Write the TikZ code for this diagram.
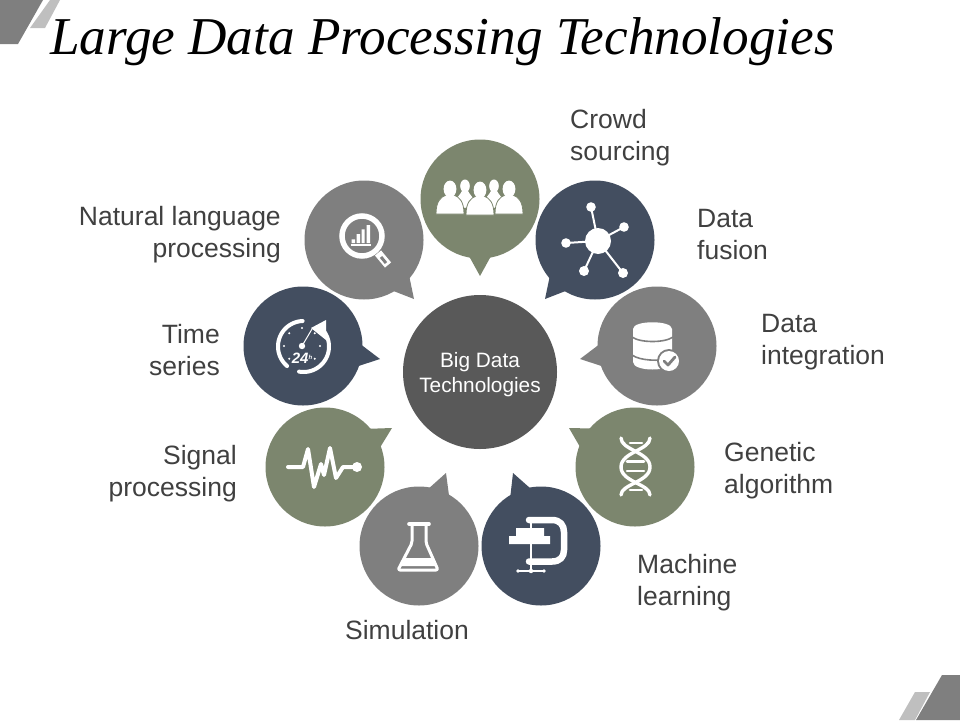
\documentclass[tikz,border=0pt]{standalone}
\usepackage{fontspec}
\setmainfont{Liberation Sans}
\newfontfamily\titlefont{Liberation Serif}
\usetikzlibrary{calc}
\definecolor{cgreen}{HTML}{7C866E}
\definecolor{cnavy}{HTML}{434E60}
\definecolor{cgray}{HTML}{7F7F7F}
\definecolor{ccentre}{HTML}{595959}
\definecolor{ctext}{HTML}{404040}
\tikzset{
  disc/.style={circle,inner sep=0pt,minimum size=119pt,draw=none},
  lab/.style={inner sep=0pt,text=ctext,font=\fontsize{26.5}{32}\selectfont},
  labl/.style={lab,anchor=west,align=left},
  labr/.style={lab,anchor=east,align=right},
  ico/.style={draw=white,line cap=round,line join=round},
}
\newcommand{\bubble}[6]{%
  \node[disc,fill=#4] (#1) at (#2,#3) {};
  \coordinate (#1tip) at (#5,#6);
  \pgfmathsetmacro{\tailang}{atan2(#6-#3,#5-#2)}
  \fill[#4] ($(#1.center)+(\tailang-11:58)$) -- (#1tip) -- ($(#1.center)+(\tailang+11:58)$) -- cycle;
}
\newcommand{\person}[2]{% x, head centre y
  \fill[white,draw=cgreen,line width=0.8pt] ({#1-14},{#2+25}) .. controls ({#1-14},{#2+12}) and ({#1-9},{#2+8}) .. ({#1-4},{#2+6}) -- ({#1+4},{#2+6}) .. controls ({#1+9},{#2+8}) and ({#1+14},{#2+12}) .. ({#1+14},{#2+25}) -- cycle;
  \fill[white] (#1,#2) ellipse [x radius=6.4,y radius=8.4];
}
\newcommand{\backperson}[1]{%
  \fill[white] ({#1-10},202) .. controls ({#1-8},197) and ({#1-5},195) .. ({#1-3},191) -- ({#1+3},191) .. controls ({#1+5},195) and ({#1+8},197) .. ({#1+10},202) -- ({#1},208) -- cycle;
  \fill[white] (#1,186) ellipse [x radius=4.8,y radius=6.5];
}
\begin{document}
\begin{tikzpicture}[x=1pt,y=-1pt]
\useasboundingbox (0,0) rectangle (960,720);
% corner decorations
\fill[cgray] (0,0) -- (43,0) -- (18,44) -- (0,44) -- cycle;
\fill[black!25] (50,0) -- (60,0) -- (45,28) -- (30,28) -- cycle;
\fill[cgray] (942,675) -- (960,675) -- (960,720) -- (916,720) -- cycle;
\fill[black!25] (915,692) -- (930,692) -- (915,720) -- (899,720) -- cycle;
% title
\node[inner sep=0pt,anchor=west] (title) at (50,42) {\titlefont\itshape\fontsize{53.2}{60}\selectfont Large Data Processing Technologies};
% centre
\node[circle,inner sep=0pt,minimum size=154pt,fill=ccentre] (centre) at (480,372) {};
\node[inner sep=0pt,text=white,align=center,font=\fontsize{20.8}{25}\selectfont] (centretext) at (480,374.5) {Big Data\\Technologies};
% bubbles
\bubble{crowd}{480}{199}{cgreen}{480}{276}
\bubble{fusion}{595}{240}{cnavy}{545}{299}
\bubble{integ}{657}{346}{cgray}{580}{359}
\bubble{genetic}{635}{467}{cgreen}{569}{428}
\bubble{machine}{541}{546}{cnavy}{513}{473}
\bubble{simul}{419}{546}{cgray}{446}{473}
\bubble{signal}{325}{467}{cgreen}{392}{428}
\bubble{timeser}{303}{346}{cnavy}{380}{359}
\bubble{nlp}{364}{240}{cgray}{414}{299}
% labels
\node[labl] (lcrowd) at (570,138) {Crowd\\sourcing};
\node[labl] (lfusion) at (697,235) {Data\\fusion};
\node[labl] (linteg) at (761,342) {Data\\integration};
\node[labl] (lgenetic) at (724,471) {Genetic\\algorithm};
\node[labl] (lmachine) at (637,583) {Machine\\learning};
\node[lab] (lsimul) at (407,630) {Simulation};
\node[labr] (lsignal) at (237,474) {Signal\\processing};
\node[labr] (ltime) at (220,350) {Time\\series};
\node[labr] (lnlp) at (281,235) {Natural language\\processing};
% icon: people
\backperson{465}\backperson{494}
\person{450}{189}\person{480}{190}\person{509}{189}
% icon: fusion
\draw[ico,line width=2pt] (598,241) -- (591,207) (598,241) -- (624,227) (598,241) -- (566,243) (598,241) -- (584,271) (598,241) -- (623,273);
\fill[white] (598,241) circle [radius=13];
\fill[white] (591,207) circle [radius=4.8] (624,227) circle [radius=4.8] (566,243) circle [radius=4.8] (584,271) circle [radius=5] (623,273) circle [radius=5];
% icon: database
\fill[white] (633,329) .. controls (633,320) and (672,320) .. (672,329) -- (672,362) .. controls (672,372) and (633,372) .. (633,362) -- cycle;
\draw[cgray,line width=1.6pt] (632,337) .. controls (640,343) and (665,343) .. (673,337);
\draw[cgray,line width=1.6pt] (632,355) .. controls (640,361) and (660,361) .. (668,359);
\fill[cgray] (669,361) circle [radius=12];
\fill[white] (669,361) circle [radius=10];
\draw[cgray,line width=2.8pt,line cap=round,line join=round] (664,361) -- (668,365) -- (675,357);
% icon: DNA
\draw[ico,line width=3.4pt] (621,438) .. controls (621,450) and (650,452) .. (650,467) .. controls (650,482) and (621,484) .. (621,495);
\draw[ico,line width=3.4pt] (650,438) .. controls (650,450) and (621,452) .. (621,467) .. controls (621,482) and (650,484) .. (650,495);
\draw[ico,line width=2.6pt] (630,443) -- (642,443) (627,461.5) -- (644,461.5) (627,471) -- (644,471) (630,490) -- (642,490);
% icon: clamp
\draw[ico,line width=6.5pt] (529,520) -- (552,520) .. controls (560,520) and (564,525) .. (564,532) -- (564,550) .. controls (564,557) and (560,561.5) .. (552,561.5) -- (529,561.5);
\fill[white] (516,528) -- (544,528) -- (544,536) -- (550,536) -- (550,544) -- (509,544) -- (509,536) -- (516,536) -- cycle;
\draw[ico,line width=2.6pt] (531,522) -- (531,528) (531,544) -- (531,571);
\draw[ico,line width=1.3pt] (518,571) -- (544,571);
\fill[white] (518,571) circle [radius=1.8] (531,571) circle [radius=2.2] (544,571) circle [radius=1.8];
% icon: flask
\draw[ico,line width=3pt,rounded corners=2pt] (412,526) -- (412,543) -- (398,570) -- (438,570) -- (426,543) -- (426,526);
\draw[ico,line width=3.6pt] (409,524) -- (429,524);
\fill[white] (403.5,558) -- (433,558) -- (436,566) -- (400.5,566) -- cycle;
% icon: pulse
\draw[ico,line width=4pt] (288,467) -- (303,467) -- (308,449) -- (314,487) -- (321,464) -- (324,475) -- (330,448) -- (336,478) -- (343,467) -- (357,467);
\fill[white] (357,467) circle [radius=5];
% icon: 24h dial
\draw[ico,line width=4pt] plot[domain=-48:100,samples=40] ({303.5+25.5*cos(\x)},{346.5+25.5*sin(\x)});
\draw[ico,line width=4pt] plot[domain=130:268,samples=40] ({303.5+25.5*cos(\x)},{346.5+25.5*sin(\x)});
\fill[white] (311,328) -- (326,320) -- (326,340) -- cycle;
\fill[white] (302,346) circle [radius=3.2];
\draw[ico,line width=1pt] (302,346) -- (312,329);
\foreach \t in {-90,-135,180,135,-45,0,45} \fill[white] ({302+18*cos(\t)},{346+18*sin(\t)}) circle [radius=1.1];
\node[inner sep=0pt,text=white,font=\bfseries\itshape\fontsize{15}{15}\selectfont] (hours) at (302,358) {24\raisebox{4pt}{\fontsize{6}{6}\selectfont h}};
% icon: magnifier
\draw[white,line width=5.5pt] (362,236) circle [radius=20];
\draw[white,line width=8pt] (378,253) -- (388,265);
\draw[cgray,line width=3pt] (381,257) -- (386,263);
\fill[white] (351.7,239.3) rectangle (355,243) (356.7,234) rectangle (360,243) (361.7,229.3) rectangle (364.6,243) (366.7,225) rectangle (370,243);
\draw[white,line width=1.2pt] (350.5,245) -- (371,245);
\end{tikzpicture}
\end{document}
